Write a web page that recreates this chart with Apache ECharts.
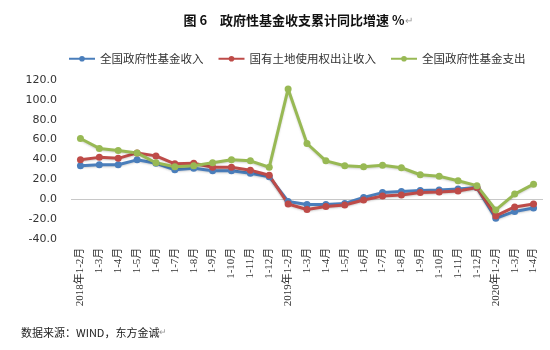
<!DOCTYPE html>
<html>
<head>
<meta charset="utf-8">
<script src="https://cdn.jsdelivr.net/npm/echarts@6/dist/echarts.min.js"></script>
<style>html,body{margin:0;padding:0;background:#fff;}#c{width:550px;height:350px;}</style>
</head>
<body>
<div id="c"></div>
<script>
const categories = ["2018年1-2月","1-3月","1-4月","1-5月","1-6月","1-7月","1-8月","1-9月","1-10月","1-11月","1-12月",
  "2019年1-2月","1-3月","1-4月","1-5月","1-6月","1-7月","1-8月","1-9月","1-10月","1-11月","1-12月",
  "2020年1-2月","1-3月","1-4月"];
const seriesNames = ["全国政府性基金收入","国有土地使用权出让收入","全国政府性基金支出"];
const fundIncome = [33.5,34.5,34.5,39.5,36,29.5,31,28.5,28.5,26,22.5,-2.5,-5.5,-5.5,-4.5,1.5,6.5,7.5,8.5,9,10,11.5,-19.5,-12.5,-9];
const landIncome = [39.5,42,41,46.5,43.5,35.5,36,32,32,29,24,-5,-10.5,-7.5,-6,-1,3,4,6.5,7,8,11.5,-17,-8,-5];
const fundSpending = [61,51,49,46.5,36.5,32.5,33.5,36.5,39.5,38.5,32,111,56,38.5,33.5,32.5,34,31.5,24.5,23,18.5,13.5,-11,5,15];
const yTicks = {min:-40, max:120, interval:20};
const titleText = "图 6　政府性基金收支累计同比增速 %";
const sourceText = "数据来源：WIND，东方金诚";

const colors = ["#4A7EBB","#BE4B48","#98B954"];
const chart = echarts.init(document.getElementById('c'), null, {renderer:'canvas'});
function mk(name, data, i){
  const s = {
    name: name, type:'line', data: data,
    symbol:'circle', symbolSize:7,
    lineStyle:{width:3, color:colors[i], shadowColor:'rgba(0,0,0,0.18)', shadowBlur:2, shadowOffsetY:1},
    itemStyle:{color:colors[i]},
    emphasis:{disabled:true}, animation:false
  };
  if(i===0){
    s.markLine = {silent:true, symbol:'none', label:{show:false}, animation:false,
      lineStyle:{color:'#C8C8C8', type:'solid', width:1}, data:[{yAxis:0}], z:1};
  }
  return s;
}
chart.setOption({
  backgroundColor:'#fff',
  animation:false,
  textStyle:{fontFamily:'"Noto Sans CJK SC", sans-serif'},
  title:{text:titleText + '{m|↵}', left:293, top:9, textAlign:'center',
    textStyle:{fontSize:13, fontWeight:'bold', color:'#111', fontFamily:'"Noto Sans CJK SC", sans-serif',
      rich:{m:{fontSize:10, color:'#999', fontWeight:'normal'}}}},
  legend:{top:48, left:63, itemGap:14, itemWidth:26, itemHeight:7,
    textStyle:{fontSize:11.5, color:'#333', fontFamily:'"Noto Sans CJK SC", sans-serif'},
    data:seriesNames},
  grid:{left:71, right:7, top:80, bottom:111.3, containLabel:false},
  xAxis:{type:'category', data:categories, boundaryGap:true,
    axisLine:{show:false}, axisTick:{show:false},
    axisLabel:{interval:0, rotate:90, margin:9, fontSize:11, color:'#333',
      fontFamily:'"Liberation Serif", "Noto Sans CJK SC", serif'}},
  yAxis:{type:'value', min:yTicks.min, max:yTicks.max, interval:yTicks.interval,
    axisLine:{show:false}, axisTick:{show:false}, splitLine:{show:false},
    axisLabel:{margin:14, fontSize:11, color:'#333', fontFamily:'"DejaVu Sans", sans-serif',
      formatter: v => v.toFixed(1)}},
  graphic:[{type:'text', left:21, top:327, style:{text:sourceText + '{m|↵}', fontSize:11, fill:'#222',
    fontFamily:'"Noto Sans CJK SC", sans-serif', rich:{m:{fontSize:9, fill:'#999'}}}}],
  series:[mk(seriesNames[0], fundIncome, 0), mk(seriesNames[1], landIncome, 1), mk(seriesNames[2], fundSpending, 2)]
});
</script>
</body>
</html>
